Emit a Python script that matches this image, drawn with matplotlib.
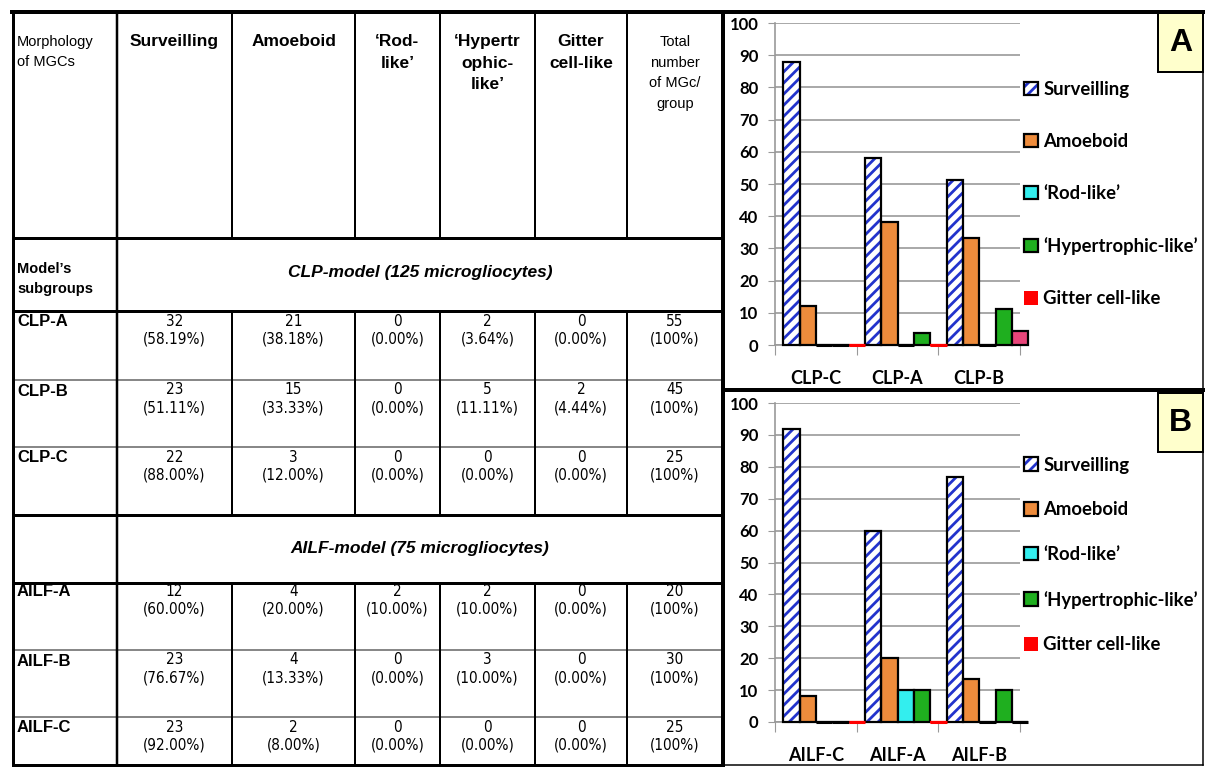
import numpy as np
import matplotlib.pyplot as plt
from matplotlib import font_manager
from matplotlib.font_manager import FontProperties
from matplotlib.patches import Rectangle, Patch

# table columns / chart series
morphs = ["Surveilling", "Amoeboid", "‘Rod-like’", "‘Hypertrophic-like’", "Gitter cell-like"]
col_heads = ["Surveilling", "Amoeboid", "‘Rod-\nlike’", "‘Hypertr\nophic-\nlike’", "Gitter\ncell-like"]

clp_rows = ["CLP-A", "CLP-B", "CLP-C"]
clp_counts = [[32, 21, 0, 2, 0], [23, 15, 0, 5, 2], [22, 3, 0, 0, 0]]
clp_pct = [[58.19, 38.18, 0.00, 3.64, 0.00],
           [51.11, 33.33, 0.00, 11.11, 4.44],
           [88.00, 12.00, 0.00, 0.00, 0.00]]
clp_total = [55, 45, 25]

ailf_rows = ["AILF-A", "AILF-B", "AILF-C"]
ailf_counts = [[12, 4, 2, 2, 0], [23, 4, 0, 3, 0], [23, 2, 0, 0, 0]]
ailf_pct = [[60.00, 20.00, 10.00, 10.00, 0.00],
            [76.67, 13.33, 0.00, 10.00, 0.00],
            [92.00, 8.00, 0.00, 0.00, 0.00]]
ailf_total = [20, 30, 25]

# group order used on the bar charts
clp_order = ["CLP-C", "CLP-A", "CLP-B"]
ailf_order = ["AILF-C", "AILF-A", "AILF-B"]

arial = "Liberation Sans"
chart_font = "Lato"


def narrow_props(size):
    # a condensed sans for the cell numbers, if one is installed
    fonts = font_manager.fontManager.ttflist
    for f in fonts:
        if f.name == "Liberation Sans Narrow" and f.weight in (400, "normal") and f.style == "normal":
            return FontProperties(fname=f.fname, size=size)
    for f in fonts:
        if (f.stretch in ("condensed", "semi-condensed") or "Condensed" in f.name) \
                and f.weight in (400, "normal") and f.style == "normal" and "Sans" in f.name:
            return FontProperties(fname=f.fname, size=size)
    return FontProperties(family=arial, size=size)


cell_font = narrow_props(11)

W, H = 1205, 767
fig = plt.figure(figsize=(W / 100, H / 100), dpi=100)
bg = fig.add_axes([0, 0, 1, 1])
bg.set_xlim(0, W)
bg.set_ylim(H, 0)
bg.axis("off")

PX = 0.72  # px -> pt


def hline(y, x0, x1, w, c="black"):
    bg.plot([x0, x1], [y, y], color=c, lw=w * PX, solid_capstyle="projecting")


def vline(x, y0, y1, w, c="black"):
    bg.plot([x, x], [y0, y1], color=c, lw=w * PX, solid_capstyle="projecting")


# ---- table grid ----
cols = [13, 117, 232, 355, 440, 535, 627, 723]
hline(12, 12, 1204, 4)
hline(238, 13, 723, 3)
hline(311, 13, 723, 3)
hline(380, 13, 723, 2, "#888888")
hline(447, 13, 723, 2, "#888888")
hline(515, 13, 723, 3)
hline(583, 13, 723, 3)
hline(650, 13, 723, 2, "#888888")
hline(717, 13, 723, 2, "#888888")
hline(765, 13, 723, 3)
vline(13, 12, 765, 3)
vline(723, 12, 765, 4)
vline(117, 12, 765, 2.5)
for x in cols[2:-1]:
    vline(x, 12, 238, 2)
    vline(x, 311, 515, 2)
    vline(x, 583, 765, 2)

# chart panel frame
vline(1203, 12, 765, 1.5)
hline(765, 723, 1203, 1.5)
hline(390, 723, 1204, 4)

# ---- table text ----
centers = [(cols[i] + cols[i + 1]) / 2 for i in range(1, 7)]
bg.text(17, 35, "Morphology\nof MGCs", fontsize=10.5, family=arial, va="top",
        ha="left", linespacing=1.55)
for cx, head in zip(centers, col_heads):
    bg.text(cx, 34, head, fontsize=12.5, family=arial, weight="bold", va="top",
            ha="center", linespacing=1.55)
bg.text(centers[5], 35, "Total\nnumber\nof MGc/\ngroup", fontsize=10.5, family=arial,
        va="top", ha="center", linespacing=1.6)

bg.text(17, 279, "Model’s\nsubgroups", fontsize=10.5, family=arial, weight="bold",
        va="center", ha="left", linespacing=1.6)
bg.text(420, 273, "CLP-model (125 microgliocytes)", fontsize=12.5, family=arial,
        weight="bold", style="italic", ha="center", va="center")
bg.text(420, 549, "AILF-model (75 microgliocytes)", fontsize=12.5, family=arial,
        weight="bold", style="italic", ha="center", va="center")


def fill_rows(names, counts, pct, totals, tops):
    for name, cnt, pc, tot, top in zip(names, counts, pct, totals, tops):
        bg.text(17, top + 11, name, fontsize=12, family=arial, weight="bold",
                ha="left", va="center")
        for cx, c, p in zip(centers, cnt, pc):
            bg.text(cx, top + 10, f"{c}", fontproperties=cell_font,
                    ha="center", va="center")
            bg.text(cx, top + 28, f"({p:.2f}%)", fontproperties=cell_font,
                    ha="center", va="center")
        bg.text(centers[5], top + 10, f"{tot}", fontproperties=cell_font,
                ha="center", va="center")
        bg.text(centers[5], top + 28, "(100%)", fontproperties=cell_font,
                ha="center", va="center")


fill_rows(clp_rows, clp_counts, clp_pct, clp_total, [311, 380, 447])
fill_rows(ailf_rows, ailf_counts, ailf_pct, ailf_total, [581, 650, 717])

# ---- bar charts ----
blue = "#2233CC"
face = ["white", "#EE8C3C", "#33EEEE", "#1FAF1F", "#FF0000"]


def chart(top_px, zero_px, names, pct_rows, order, gitter_face,
          gitter_edge, letter, legend_y, legend_space):
    left, right = 775, 1020
    ax = fig.add_axes([left / W, 1 - zero_px / H, (right - left) / W,
                       (zero_px - top_px) / H])
    ax.set_facecolor("none")
    vals = np.array([pct_rows[names.index(g)] for g in order])
    x = np.arange(len(order))
    w = 0.2
    for k in range(5):
        xs = x - 0.4 + w * (k + 0.5)
        h = vals[:, k]
        if k == 0:
            ax.bar(xs, h, w, color="white", edgecolor=blue, hatch="///", lw=0,
                   zorder=3, clip_on=False)
            ax.bar(xs, h, w, fill=False, edgecolor="black", lw=1.6, zorder=4,
                   clip_on=False)
            edges = ["black"] * len(xs)
        elif k == 4:
            ax.bar(xs, h, w, color=gitter_face, edgecolor=gitter_edge, lw=1.6,
                   zorder=3, clip_on=False)
            edges = gitter_edge
        else:
            ax.bar(xs, h, w, color=face[k], edgecolor="black", lw=1.6, zorder=3,
                   clip_on=False)
            edges = ["black"] * len(xs)
        # empty categories still show as a flat outline on the baseline
        for xi, hi, ec in zip(xs, h, edges):
            if hi == 0:
                ax.plot([xi - w / 2, xi + w / 2], [hi, hi], color=ec, lw=2.2,
                        zorder=5, clip_on=False, solid_capstyle="butt")
    ax.set_xlim(-0.5, len(order) - 0.5)
    ax.set_ylim(0, 100)
    ax.set_yticks(np.arange(0, 101, 10))
    ax.yaxis.grid(True, color="#999999", lw=1.2)
    ax.set_axisbelow(True)
    for s in ["top", "right"]:
        ax.spines[s].set_visible(False)
    for s in ["left", "bottom"]:
        ax.spines[s].set_color("#999999")
        ax.spines[s].set_linewidth(1.2)
    ax.tick_params(axis="y", length=5, color="#999999", pad=7)
    ax.set_xticks(np.arange(-0.5, len(order)), labels=[])
    ax.set_xticks(x, labels=order, minor=True)
    ax.tick_params(axis="x", which="major", length=7, color="#999999")
    ax.tick_params(axis="x", which="minor", length=0, pad=18)
    for t in ax.get_yticklabels():
        t.set_fontfamily(chart_font)
        t.set_fontweight("bold")
        t.set_fontsize(12)
    for t in ax.get_xticklabels(minor=True):
        t.set_fontfamily(chart_font)
        t.set_fontweight("bold")
        t.set_fontsize(13)

    # panel letter
    bg.add_patch(Rectangle((1158, top_px - 10), 45, 59, facecolor="#FFFFCC",
                           edgecolor="black", lw=2 * PX, zorder=5))
    bg.text(1180.5, top_px + 20, letter, fontsize=23, family=arial,
            weight="bold", ha="center", va="center", zorder=6)

    handles = [
        (Patch(facecolor="white", edgecolor=blue, hatch="///", lw=0),
         Patch(fill=False, edgecolor="black", lw=1.6)),
        Patch(facecolor=face[1], edgecolor="black", lw=1.6),
        Patch(facecolor=face[2], edgecolor="black", lw=1.6),
        Patch(facecolor=face[3], edgecolor="black", lw=1.6),
        Patch(facecolor=face[4], edgecolor="none"),
    ]
    fig.legend(handles, morphs, loc="center left",
               bbox_to_anchor=(1024 / W, 1 - legend_y / H), frameon=False,
               prop={"family": chart_font, "weight": "bold", "size": 13.3},
               labelspacing=legend_space, handlelength=0.75, handleheight=0.75,
               handletextpad=0.3, borderaxespad=0, borderpad=0)


plt.rcParams["hatch.linewidth"] = 2.0
chart(23, 345, clp_rows, clp_pct, clp_order,
      ["red", "red", "#E8457A"], ["red", "red", "black"], "A", 194, 1.9)
chart(403, 722, ailf_rows, ailf_pct, ailf_order,
      ["red", "red", "red"], ["red", "red", "black"], "B", 555, 1.5)

fig.savefig("out.png", dpi=100)
